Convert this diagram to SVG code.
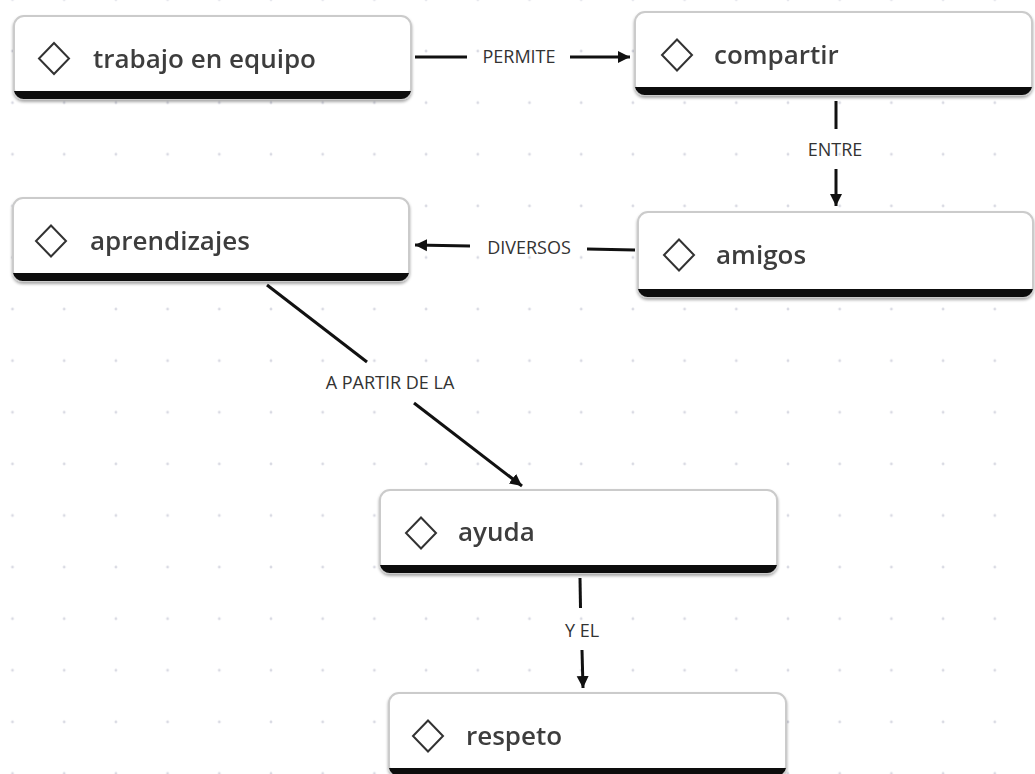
<svg xmlns="http://www.w3.org/2000/svg" width="1035" height="774" viewBox="0 0 1035 774">
  <defs>
    <pattern id="dots" x="-13.35" y="-26.3" width="51.7" height="51.6" patternUnits="userSpaceOnUse">
      <circle cx="25.85" cy="25.8" r="1.4" fill="#d9dae3"/>
    </pattern>
    <marker id="arrow" viewBox="0 0 10 10" refX="10" refY="5" markerWidth="12" markerHeight="13" markerUnits="userSpaceOnUse" orient="auto">
      <path d="M0,0 L10,5 L0,10 Z" fill="#111"/>
    </marker>
    <filter id="sh" x="-5%" y="-10%" width="110%" height="130%">
      <feGaussianBlur in="SourceAlpha" stdDeviation="1.5"/>
      <feOffset dx="0" dy="1.5"/>
      <feComponentTransfer><feFuncA type="linear" slope="0.35"/></feComponentTransfer>
      <feMerge><feMergeNode/><feMergeNode in="SourceGraphic"/></feMerge>
    </filter>
  </defs>
  <style>
    .box { fill: #ffffff; stroke: #cbcbcb; stroke-width: 2; }
    .bar { fill: #0a0a0a; }
    .dia { fill: none; stroke: #333333; stroke-width: 2; }
    .title { font-family: "Open Sans", "Noto Sans", "Liberation Sans", sans-serif; font-weight: 600; font-size: 26px; fill: #3e3e3e; }
    .lbl { font-family: "Open Sans", "Noto Sans", "Liberation Sans", sans-serif; font-size: 18px; fill: #333333; text-anchor: middle; }
    .con { fill: none; stroke: #111111; stroke-width: 3; }
  </style>
  <rect width="1035" height="774" fill="#ffffff"/>
  <rect width="1035" height="774" fill="url(#dots)"/>

  <g id="connectors">
    <path class="con" d="M415,57 H467"/>
    <path class="con" d="M570,57 H630" marker-end="url(#arrow)"/>
    <text class="lbl" x="519" y="63">PERMITE</text>

    <path class="con" d="M836,101 V129"/>
    <path class="con" d="M836,169 V206" marker-end="url(#arrow)"/>
    <text class="lbl" x="835" y="156">ENTRE</text>

    <path class="con" d="M635,250 L587,249"/>
    <path class="con" d="M470,246 L415,245" marker-end="url(#arrow)"/>
    <text class="lbl" x="529" y="254">DIVERSOS</text>

    <path class="con" d="M267,285 L367,362"/>
    <path class="con" d="M414,403 L522,486" marker-end="url(#arrow)"/>
    <text class="lbl" x="390" y="389">A PARTIR DE LA</text>

    <path class="con" d="M580,578 L580.5,608"/>
    <path class="con" d="M582,650 L583,688" marker-end="url(#arrow)"/>
    <text class="lbl" x="582" y="637">Y EL</text>
  </g>

  <g id="node-trabajo" filter="url(#sh)">
    <rect class="box" x="14" y="16" width="397" height="83" rx="10"/>
    <path class="bar" d="M14,91 H411 A10,10 0 0 1 401,99 H24 A10,10 0 0 1 14,91 Z"/>
    <path class="dia" d="M54,43 L69,58.5 L54,74 L39,58.5 Z"/>
    <text class="title" x="93" y="68">trabajo en equipo</text>
  </g>

  <g id="node-compartir" filter="url(#sh)">
    <rect class="box" x="635" y="12" width="397" height="83" rx="10"/>
    <path class="bar" d="M635,87 H1032 A10,10 0 0 1 1022,95 H645 A10,10 0 0 1 635,87 Z"/>
    <path class="dia" d="M677,39.5 L692,55 L677,70.5 L662,55 Z"/>
    <text class="title" x="714" y="64">compartir</text>
  </g>

  <g id="node-amigos" filter="url(#sh)">
    <rect class="box" x="638" y="212" width="395" height="85" rx="10"/>
    <path class="bar" d="M638,289 H1033 A10,10 0 0 1 1023,297 H648 A10,10 0 0 1 638,289 Z"/>
    <path class="dia" d="M679,239.5 L694,255 L679,270.5 L664,255 Z"/>
    <text class="title" x="716" y="264">amigos</text>
  </g>

  <g id="node-aprendizajes" filter="url(#sh)">
    <rect class="box" x="13" y="198" width="396" height="83" rx="10"/>
    <path class="bar" d="M13,273 H409 A10,10 0 0 1 399,281 H23 A10,10 0 0 1 13,273 Z"/>
    <path class="dia" d="M51,225.5 L66,241 L51,256.5 L36,241 Z"/>
    <text class="title" x="90" y="250">aprendizajes</text>
  </g>

  <g id="node-ayuda" filter="url(#sh)">
    <rect class="box" x="380" y="490" width="397" height="83" rx="10"/>
    <path class="bar" d="M380,565 H777 A10,10 0 0 1 767,573 H390 A10,10 0 0 1 380,565 Z"/>
    <path class="dia" d="M421,517.5 L436,533 L421,548.5 L406,533 Z"/>
    <text class="title" x="458" y="541">ayuda</text>
  </g>

  <g id="node-respeto" filter="url(#sh)">
    <rect class="box" x="389" y="693" width="397" height="83" rx="10"/>
    <path class="bar" d="M389,768 H786 A10,10 0 0 1 776,776 H399 A10,10 0 0 1 389,768 Z"/>
    <path class="dia" d="M428,720.5 L443,736 L428,751.5 L413,736 Z"/>
    <text class="title" x="466" y="745">respeto</text>
  </g>
</svg>
